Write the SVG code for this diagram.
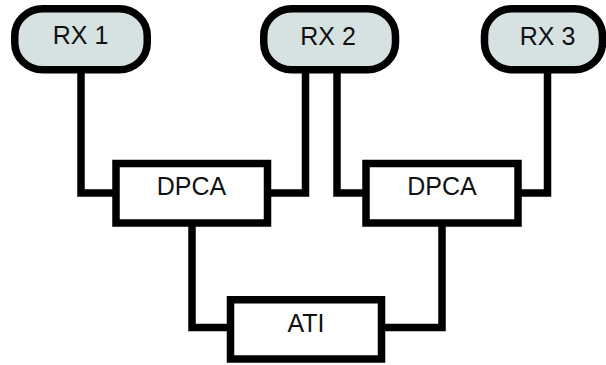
<svg xmlns="http://www.w3.org/2000/svg" width="606" height="365" viewBox="0 0 606 365">
  <style>
    .rx { fill: #d6e2e2; stroke: #000; stroke-width: 7.5; }
    .box { fill: #fff; stroke: #000; stroke-width: 7.5; }
    .wire { fill: none; stroke: #000; stroke-width: 7.5; stroke-linejoin: miter; stroke-linecap: butt; }
    .lbl { font-family: "Liberation Sans", Arial, sans-serif; font-size: 25px; fill: #111; text-anchor: middle; }
  </style>
  <rect width="606" height="365" fill="#fff"/>

  <!-- connectors -->
  <g id="connectors">
    <path class="wire" d="M81,70 V193 H116"/>
    <path class="wire" d="M305.5,70 V193 H267"/>
    <path class="wire" d="M337,70 V193 H366"/>
    <path class="wire" d="M547.5,70 V193 H518"/>
    <path class="wire" d="M192,223 V327.5 H230.5"/>
    <path class="wire" d="M442,223 V327.5 H381.5"/>
  </g>

  <!-- receivers -->
  <g id="rx1">
    <rect class="rx" x="14.75" y="8.75" width="132.5" height="61" rx="28" ry="27"/>
    <text class="lbl" x="80.5" y="44">RX 1</text>
  </g>
  <g id="rx2">
    <rect class="rx" x="263.75" y="8.75" width="131.75" height="61" rx="28" ry="27"/>
    <text class="lbl" x="328" y="45">RX 2</text>
  </g>
  <g id="rx3">
    <rect class="rx" x="484.5" y="8.75" width="118" height="61" rx="28" ry="27"/>
    <text class="lbl" x="547.5" y="45">RX 3</text>
  </g>

  <!-- processing blocks -->
  <g id="dpca1">
    <rect class="box" x="116" y="163.5" width="151.5" height="59.5"/>
    <text class="lbl" x="191.5" y="195">DPCA</text>
  </g>
  <g id="dpca2">
    <rect class="box" x="366" y="163.5" width="152" height="59.5"/>
    <text class="lbl" x="442" y="195">DPCA</text>
  </g>
  <g id="ati">
    <rect class="box" x="230.5" y="299.75" width="151" height="59.25"/>
    <text class="lbl" x="306" y="331.5">ATI</text>
  </g>
</svg>
